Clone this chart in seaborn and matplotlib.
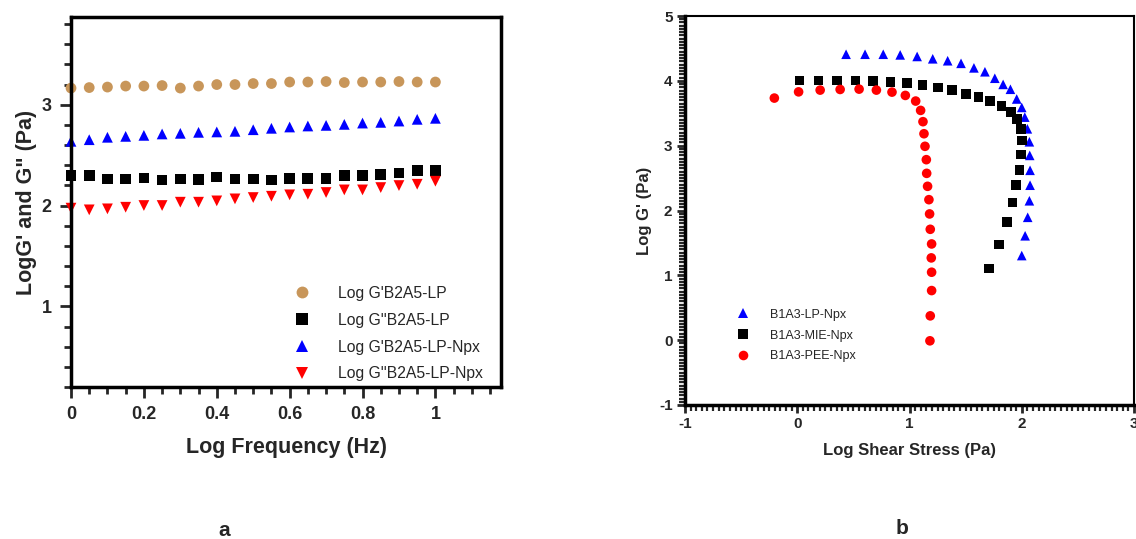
import numpy as np
import pandas as pd
import seaborn as sns
import matplotlib
matplotlib.use("Agg")
import matplotlib.pyplot as plt
from matplotlib.ticker import MultipleLocator, FormatStrFormatter

# ---- (a) frequency sweep ----
log_freq = [0.00, 0.05, 0.10, 0.15, 0.20, 0.25, 0.30, 0.35, 0.40, 0.45, 0.50,
            0.55, 0.60, 0.65, 0.70, 0.75, 0.80, 0.85, 0.90, 0.95, 1.00]
g1_lp = [3.165, 3.17, 3.175, 3.185, 3.185, 3.19, 3.165, 3.185, 3.20, 3.20, 3.21,
         3.21, 3.225, 3.225, 3.23, 3.22, 3.225, 3.225, 3.23, 3.225, 3.225]
g2_lp = [2.30, 2.30, 2.264, 2.264, 2.274, 2.254, 2.264, 2.257, 2.284, 2.264, 2.264,
         2.254, 2.27, 2.27, 2.27, 2.30, 2.30, 2.307, 2.323, 2.347, 2.347]
g1_npx = [2.637, 2.653, 2.677, 2.686, 2.696, 2.71, 2.716, 2.726, 2.73, 2.736, 2.752,
          2.766, 2.779, 2.789, 2.795, 2.805, 2.818, 2.825, 2.838, 2.855, 2.865]
g2_npx = [1.974, 1.957, 1.967, 1.983, 2.0, 2.0, 2.033, 2.033, 2.046, 2.066, 2.079,
          2.092, 2.106, 2.112, 2.129, 2.155, 2.155, 2.178, 2.198, 2.211, 2.241]
labels_a = ["Log G'B2A5-LP", "Log G''B2A5-LP", "Log G'B2A5-LP-Npx", "Log G''B2A5-LP-Npx"]

# ---- (b) stress sweep ----
lp_stress = [0.435, 0.604, 0.766, 0.917, 1.068, 1.207, 1.34, 1.459, 1.574, 1.672,
             1.76, 1.834, 1.899, 1.955, 2.0, 2.027, 2.05, 2.068, 2.071, 2.074,
             2.074, 2.068, 2.053, 2.03, 2.0]
lp_g = [4.41, 4.41, 4.41, 4.40, 4.376, 4.34, 4.31, 4.27, 4.20, 4.14,
        4.04, 3.945, 3.87, 3.72, 3.59, 3.44, 3.26, 3.06, 2.85, 2.62,
        2.39, 2.15, 1.895, 1.61, 1.305]
mie_stress = [0.021, 0.189, 0.355, 0.518, 0.675, 0.83, 0.978, 1.117, 1.253, 1.381,
              1.505, 1.615, 1.719, 1.82, 1.902, 1.956, 1.991, 2.003, 1.994, 1.979,
              1.947, 1.917, 1.87, 1.799, 1.71]
mie_g = [4.006, 4.006, 4.006, 4.006, 3.995, 3.98, 3.965, 3.934, 3.90, 3.86,
         3.80, 3.755, 3.69, 3.616, 3.52, 3.415, 3.256, 3.08, 2.866, 2.625,
         2.39, 2.126, 1.818, 1.474, 1.104]
pee_stress = [-0.204, 0.012, 0.204, 0.382, 0.551, 0.705, 0.844, 0.963, 1.055, 1.099,
              1.12, 1.129, 1.138, 1.15, 1.153, 1.161, 1.173, 1.179, 1.185, 1.197,
              1.194, 1.197, 1.197, 1.185, 1.182]
pee_g = [3.734, 3.83, 3.857, 3.867, 3.872, 3.857, 3.826, 3.775, 3.688, 3.544,
         3.37, 3.184, 2.99, 2.784, 2.573, 2.373, 2.167, 1.947, 1.71, 1.484,
         1.269, 1.048, 0.765, 0.375, -0.01]
labels_b = ["B1A3-LP-Npx", "B1A3-MIE-Npx", "B1A3-PEE-Npx"]

sns.set_theme(style="white")
plt.rcParams["font.family"] = ["Liberation Sans", "DejaVu Sans"]
plt.rcParams["axes.unicode_minus"] = False

df_a = pd.DataFrame({
    "x": log_freq * 4,
    "y": g1_lp + g2_lp + g1_npx + g2_npx,
    "series": np.repeat(labels_a, len(log_freq)),
})
df_b = pd.DataFrame({
    "x": lp_stress + mie_stress + pee_stress,
    "y": lp_g + mie_g + pee_g,
    "series": np.repeat(labels_b, [len(lp_g), len(mie_g), len(pee_g)]),
})

fig = plt.figure(figsize=(11.36, 5.39), dpi=100)
ax1 = fig.add_axes([71 / 1136, 1 - 387 / 539, 430 / 1136, 370 / 539])
ax2 = fig.add_axes([685 / 1136, 1 - 405 / 539, 449 / 1136, 389 / 539])

pal_a = dict(zip(labels_a, ["#C8965A", "black", "#0000FF", "#FF0000"]))
mk_a = dict(zip(labels_a, ["o", "s", "^", "v"]))
sns.scatterplot(data=df_a, x="x", y="y", hue="series", style="series",
                hue_order=labels_a, style_order=labels_a,
                palette=pal_a, markers=mk_a, s=60, linewidth=0, ax=ax1, clip_on=False)

pal_b = dict(zip(labels_b, ["#0000FF", "black", "#FF0000"]))
mk_b = dict(zip(labels_b, ["^", "s", "o"]))
sns.scatterplot(data=df_b, x="x", y="y", hue="series", style="series",
                hue_order=labels_b, style_order=labels_b,
                palette=pal_b, markers=mk_b, s=48, linewidth=0, ax=ax2)

# panel (a) axes
ax1.set_xlim(0, 1.18)
ax1.set_ylim(0.2, 3.87)
ax1.xaxis.set_major_locator(MultipleLocator(0.2))
ax1.xaxis.set_minor_locator(MultipleLocator(0.05))
ax1.yaxis.set_major_locator(MultipleLocator(1))
ax1.yaxis.set_minor_locator(MultipleLocator(0.2))
ax1.xaxis.set_major_formatter(FormatStrFormatter("%g"))
ax1.set_xlabel("Log Frequency (Hz)", fontsize=15.5, fontweight="bold", labelpad=10)
ax1.set_ylabel("LogG' and G\" (Pa)", fontsize=15.5, fontweight="bold", labelpad=3)
ax1.tick_params(which="major", direction="out", length=8, width=2, labelsize=13,
                bottom=True, left=True, pad=6)
ax1.tick_params(which="minor", direction="out", length=5, width=2, bottom=True, left=True)
for lab in ax1.get_xticklabels() + ax1.get_yticklabels():
    lab.set_fontweight("bold")
for sp in ax1.spines.values():
    sp.set_linewidth(2.5)
    sp.set_color("black")

h, l = ax1.get_legend_handles_labels()
ax1.legend(h, l, loc="upper left", bbox_to_anchor=(0.487, 0.29), frameon=False,
           fontsize=11.3, handletextpad=1.3, labelspacing=0.75, markerscale=1.1,
           borderaxespad=0)

# panel (b) axes
ax2.set_xlim(-1, 3)
ax2.set_ylim(-1, 5)
ax2.xaxis.set_major_locator(MultipleLocator(1))
ax2.xaxis.set_minor_locator(MultipleLocator(0.05))
ax2.yaxis.set_major_locator(MultipleLocator(1))
ax2.yaxis.set_minor_locator(MultipleLocator(0.05))
ax2.set_xlabel("Log Shear Stress (Pa)", fontsize=12, fontweight="bold", labelpad=8)
ax2.set_ylabel("Log G' (Pa)", fontsize=12, fontweight="bold", labelpad=5)
ax2.tick_params(which="major", direction="out", length=6, width=2, labelsize=11,
                bottom=True, left=True, pad=3)
ax2.tick_params(which="minor", direction="out", length=4, width=1.6, bottom=True, left=True)
for lab in ax2.get_xticklabels() + ax2.get_yticklabels():
    lab.set_fontweight("bold")
for name, sp in ax2.spines.items():
    sp.set_color("black")
    sp.set_linewidth(2.5 if name in ("left", "bottom") else 1.5)

h, l = ax2.get_legend_handles_labels()
ax2.legend(h, l, loc="upper left", bbox_to_anchor=(0.09, 0.26), frameon=False,
           fontsize=9, handletextpad=1.2, labelspacing=0.7, markerscale=1.0,
           borderaxespad=0)

fig.text(224 / 1136, 1 - 530 / 539, "a", fontsize=15, fontweight="bold",
         ha="center", va="center")
fig.text(902 / 1136, 1 - 528 / 539, "b", fontsize=15, fontweight="bold",
         ha="center", va="center")

fig.savefig("out.png", dpi=100, facecolor="white")
